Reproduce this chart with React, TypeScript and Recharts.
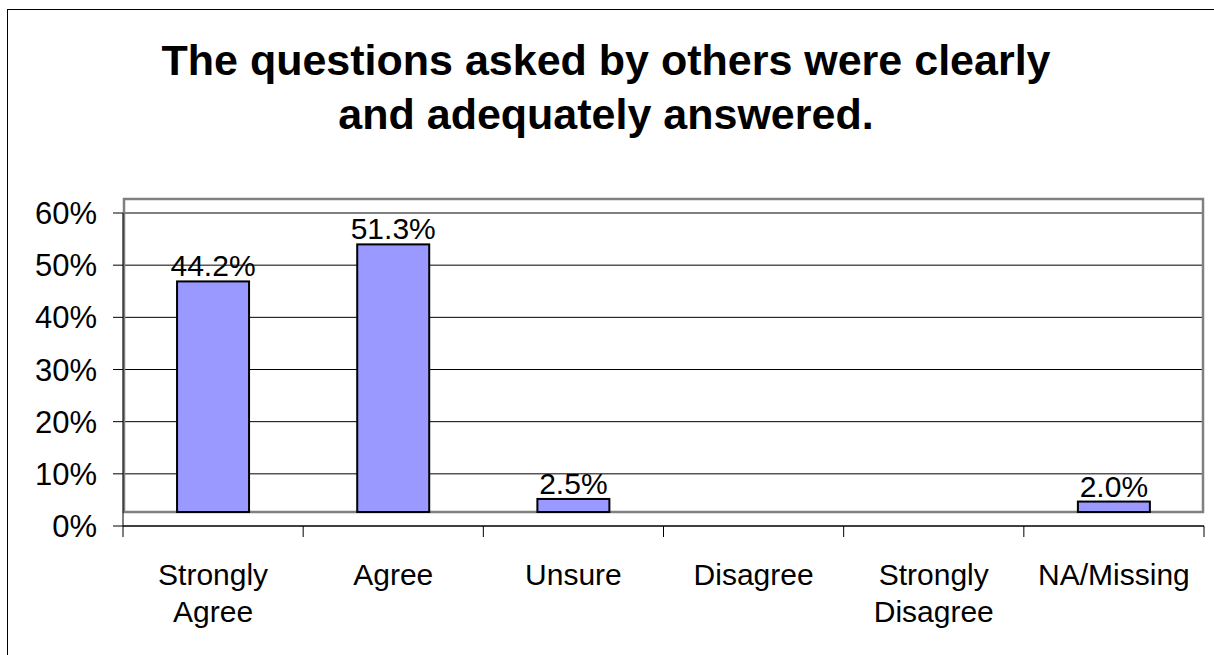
import { BarChart, Bar, XAxis, YAxis, CartesianGrid, ReferenceArea, LabelList } from 'recharts';

const categories = ['Strongly Agree', 'Agree', 'Unsure', 'Disagree', 'Strongly Disagree', 'NA/Missing'];
const percents = [44.2, 51.3, 2.5, 0, 0, 2.0];
const yTicks = [0, 10, 20, 30, 40, 50, 60];
const titleLines = ['The questions asked by others were clearly', 'and adequately answered.'];

const data = categories.map((name, i) => ({ name, value: percents[i] }));

// excel draws the columns and back wall lifted off the axis (3d depth)
const DEPTH = 14;
const FONT = '"Liberation Sans", Arial, sans-serif';

const Wall = (props: any) => {
  const { x, y, width, height } = props;
  return (
    <rect x={x + 1} y={y - DEPTH} width={width - 2} height={height} fill="none" stroke="#808080" strokeWidth={2.5} />
  );
};

const Column = (props: any) => {
  const { x, y, width, height } = props;
  if (!height || height <= 0) return <g />;
  return <rect x={x} y={y - DEPTH} width={width} height={height} fill="#9999ff" stroke="#000" strokeWidth={2} />;
};

const ValueLabel = (props: any) => {
  const { x, y, width, value } = props;
  if (!value) return null;
  return (
    <text x={x + width / 2} y={y - DEPTH - 5} textAnchor="middle" fontSize={30} fontFamily={FONT} fill="#000">
      {Number(value).toFixed(1)}%
    </text>
  );
};

const CategoryTick = (props: any) => {
  const { x, y, payload, index } = props;
  const half = payload?.offset ?? 90;
  const words = String(payload.value).split(' ');
  const isLast = index === categories.length - 1;
  return (
    <g>
      <line x1={x - half} x2={x - half} y1={y} y2={y + 11} stroke="#000" />
      {isLast && <line x1={x + half} x2={x + half} y1={y} y2={y + 11} stroke="#000" />}
      <text x={x} y={y + 59} textAnchor="middle" fontSize={30} fontFamily={FONT} fill="#000">
        {words.map((w, i) => (
          <tspan key={i} x={x} dy={i === 0 ? 0 : 37}>
            {w}
          </tspan>
        ))}
      </text>
    </g>
  );
};

export default function App() {
  return (
    <div style={{ position: 'absolute', left: 0, top: 0, width: 1214, height: 655, overflow: 'hidden', background: '#fff' }}>
      <div
        style={{
          position: 'absolute',
          left: 7,
          top: 9,
          width: 1300,
          height: 700,
          border: '1px solid #000',
        }}
      />
      <div
        style={{
          position: 'absolute',
          left: 0,
          top: 33,
          width: 1212,
          textAlign: 'center',
          fontFamily: FONT,
          fontWeight: 'bold',
          fontSize: 43,
          lineHeight: '54px',
          color: '#000',
        }}
      >
        {titleLines.map((t) => (
          <div key={t}>{t}</div>
        ))}
      </div>
      <div style={{ position: 'absolute', left: 0, top: 0 }}>
        <BarChart
          width={1214}
          height={655}
          data={data}
          margin={{ top: 213, right: 10, bottom: 29, left: 0 }}
          barCategoryGap="30%"
        >
          <ReferenceArea y1={0} y2={60} shape={Wall} />
          <CartesianGrid vertical={false} stroke="#000" strokeOpacity={1} />
          <XAxis
            dataKey="name"
            height={100}
            axisLine={{ stroke: '#000' }}
            tickLine={false}
            tickSize={0}
            tickMargin={0}
            interval={0}
            tick={<CategoryTick />}
          />
          <YAxis
            width={123}
            domain={[0, 60]}
            ticks={yTicks}
            tickFormatter={(v) => `${v}%`}
            axisLine={{ stroke: '#000' }}
            tickLine={{ stroke: '#000' }}
            tickSize={10}
            tickMargin={16}
            tick={{ fontSize: 31, fontFamily: FONT, fill: '#000' }}
          />
          <Bar dataKey="value" shape={Column} isAnimationActive={false}>
            <LabelList dataKey="value" content={ValueLabel} />
          </Bar>
        </BarChart>
      </div>
    </div>
  );
}
